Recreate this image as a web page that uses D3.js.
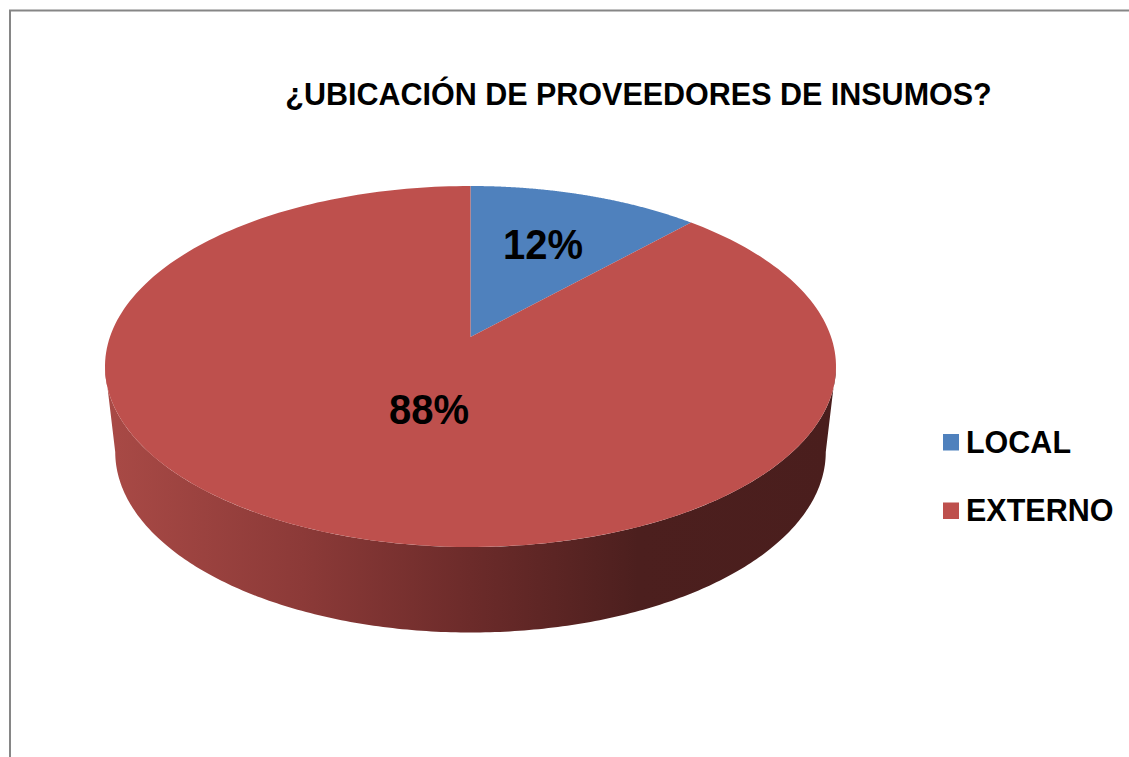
<!DOCTYPE html>
<html>
<head>
<meta charset="utf-8">
<script src="https://d3js.org/d3.v7.min.js"></script>
<style>
html, body { margin: 0; background: #fff; overflow: hidden; }
svg { display: block; }
text { font-family: "Liberation Sans", Arial, sans-serif; font-weight: bold; fill: #000; }
</style>
</head>
<body>
<svg id="chart" width="1129" height="757"></svg>
<script>
var titleText = '¿UBICACIÓN DE PROVEEDORES DE INSUMOS?',
    categories = ['LOCAL', 'EXTERNO'],
    values = [12, 88],
    colors = ['#4F81BD', '#BE504D'];

var svg = d3.select('#chart'),
    cx = 470.5,
    discTop = 186, discBottom = 547, apex = 337,   // rim of the tilted disc, apex = where slices meet
    halfW = 365.5,
    lowerCy = 452, lowerScaleX = 0.972,
    squeeze = 0.953;   // the picture's text is a bit narrower than the font

// tilted disc: y on the unit circle goes through a perspective map so the apex sits above the ellipse middle
var k = (2 * apex - discTop - discBottom) / (discBottom - discTop),
    a = discBottom + discBottom * k - apex,
    midY = (discTop + discBottom) / 2,
    yAtMid = (midY - apex) / (a - midY * k),
    d = halfW * (1 + k * yAtMid) / Math.sqrt(1 - yAtMid * yAtMid);

function project(angle, r) {
    var ux = r * Math.sin(angle), uy = -r * Math.cos(angle), w = 1 + k * uy;
    return [cx + d * ux / w, (a * uy + apex) / w];
}

function lower(p) {
    return [cx + (p[0] - cx) * lowerScaleX, lowerCy + (p[1] - midY)];
}

// angle where the top rim is widest (left and right ends of the wall)
var rightEnd = Math.PI - Math.acos(yAtMid),
    leftEnd = 2 * Math.PI - rightEnd;

var pie = d3.pie().sort(null).value(function(v) { return v; }),
    arcs = pie(values),
    line = d3.line();

function rim(start, end) {
    return d3.range(0, 241).map(function(i) { return project(start + (end - start) * i / 240, 1); });
}

// side wall gradient
var grad = svg.append('defs').append('linearGradient')
    .attr('id', 'wall')
    .attr('gradientUnits', 'userSpaceOnUse')
    .attr('x1', 105).attr('x2', 835).attr('y1', 0).attr('y2', 0);

[[0, '#A94A46'], [0.27, '#8C3A38'], [0.5, '#6C2B2A'], [0.73, '#4C1F1E'], [1, '#4A1E1D']].forEach(function(s) {
    grad.append('stop').attr('offset', s[0]).attr('stop-color', s[1]);
});

var wallTop = rim(rightEnd, leftEnd),
    wallBottom = wallTop.slice().reverse().map(lower);

svg.append('path')
    .attr('d', line(wallTop.concat(wallBottom)) + 'Z')
    .attr('fill', 'url(#wall)');

// top face slices
svg.append('g').selectAll('path')
    .data(arcs)
    .enter().append('path')
    .attr('d', function(s) {
        return line([project(0, 0)].concat(rim(s.startAngle, s.endAngle))) + 'Z';
    })
    .attr('fill', function(s, i) { return colors[i]; });

// frame, only top and left edges are in the picture
svg.append('path')
    .attr('d', 'M10,757V10.5H1129')
    .attr('fill', 'none')
    .attr('stroke', '#868686')
    .attr('stroke-width', 2);

svg.append('text')
    .attr('transform', 'translate(638.5,105) scale(' + squeeze + ',1)')
    .attr('text-anchor', 'middle')
    .style('font-size', '32px')
    .text(titleText);

// data labels
var labelPos = [[543, 259], [429, 424]];
svg.append('g').selectAll('text')
    .data(arcs)
    .enter().append('text')
    .attr('transform', function(s, i) { return 'translate(' + labelPos[i] + ') scale(0.93,1)'; })
    .attr('text-anchor', 'middle')
    .style('font-size', '43px')
    .text(function(s) { return s.data + '%'; });

// legend
var legendY = d3.scalePoint().domain(categories).range([442, 510.5]);

var legend = svg.append('g').selectAll('g')
    .data(categories)
    .enter().append('g')
    .attr('transform', function(c) { return 'translate(943,' + legendY(c) + ')'; });

legend.append('rect')
    .attr('x', 0).attr('y', -8).attr('width', 16).attr('height', 16.5)
    .attr('fill', function(c, i) { return colors[i]; });

legend.append('text')
    .attr('transform', 'translate(23,10.5) scale(' + squeeze + ',1)')
    .style('font-size', '32px')
    .text(function(c) { return c; });
</script>
</body>
</html>
